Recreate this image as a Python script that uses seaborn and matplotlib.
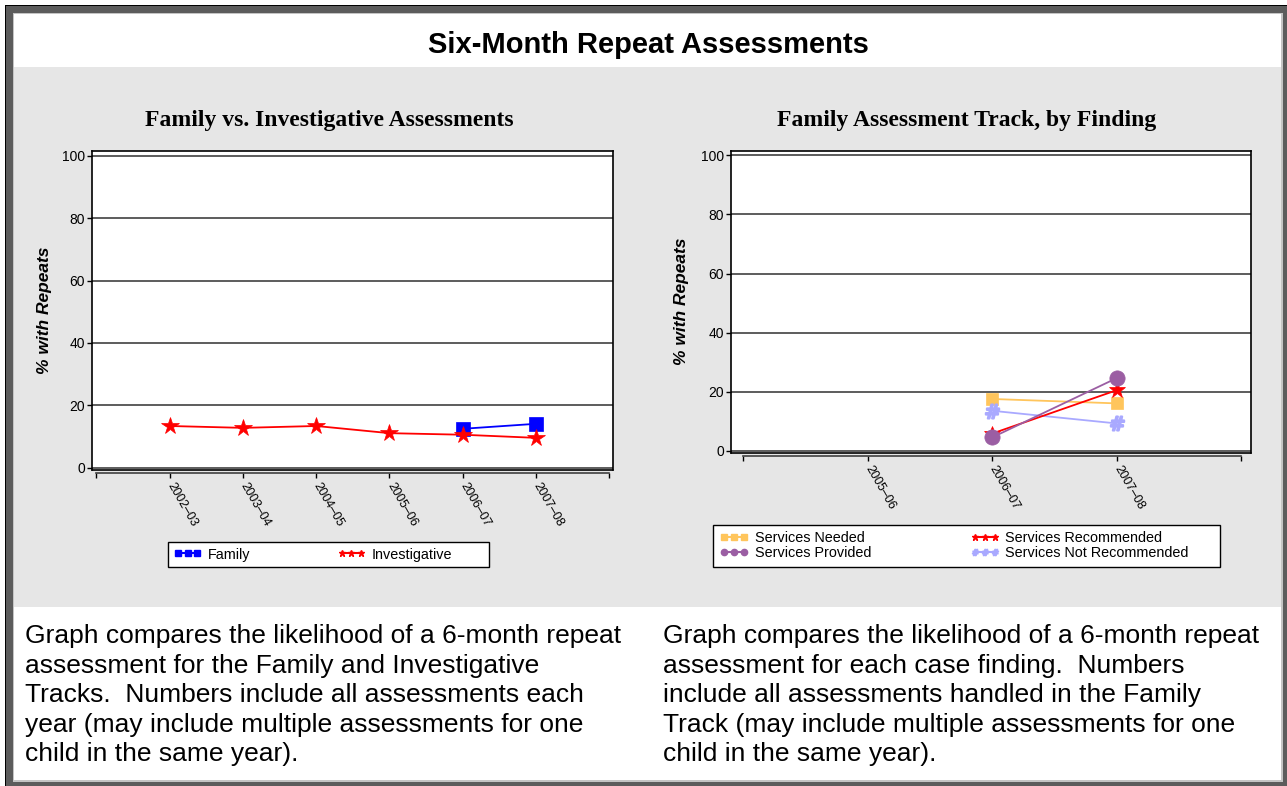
import pandas as pd
import seaborn as sns
import matplotlib.pyplot as plt
from matplotlib.patches import Rectangle
from matplotlib.lines import Line2D

# ---- data ----
years_left = ['2002–03', '2003–04', '2004–05', '2005–06', '2006–07', '2007–08']
investigative = [13.4, 12.8, 13.4, 11.1, 10.6, 9.6]
family_years = ['2006–07', '2007–08']
family = [12.5, 14.1]

years_right = ['2005–06', '2006–07', '2007–08']
finding_years = ['2006–07', '2007–08']
services_needed = [17.5, 16.0]
services_provided = [4.5, 24.6]
services_recommended = [5.8, 20.5]
services_not_recommended = [13.5, 9.2]

y_ticks = [0, 20, 40, 60, 80, 100]

title = 'Six-Month Repeat Assessments'
left_title = 'Family vs. Investigative Assessments'
right_title = 'Family Assessment Track, by Finding'
left_note = ("Graph compares the likelihood of a 6-month repeat\n"
             "assessment for the Family and Investigative\n"
             "Tracks.  Numbers include all assessments each\n"
             "year (may include multiple assessments for one\n"
             "child in the same year).")
right_note = ("Graph compares the likelihood of a 6-month repeat\n"
              "assessment for each case finding.  Numbers\n"
              "include all assessments handled in the Family\n"
              "Track (may include multiple assessments for one\n"
              "child in the same year).")

left_df = pd.concat([
    pd.DataFrame({'Year': family_years, 'Pct': family, 'Series': 'Family'}),
    pd.DataFrame({'Year': years_left, 'Pct': investigative, 'Series': 'Investigative'}),
])
left_df['pos'] = left_df['Year'].map({y: i + 1 for i, y in enumerate(years_left)})

right_df = pd.concat([
    pd.DataFrame({'Year': finding_years, 'Pct': services_needed, 'Series': 'Services Needed'}),
    pd.DataFrame({'Year': finding_years, 'Pct': services_provided, 'Series': 'Services Provided'}),
    pd.DataFrame({'Year': finding_years, 'Pct': services_recommended, 'Series': 'Services Recommended'}),
    pd.DataFrame({'Year': finding_years, 'Pct': services_not_recommended, 'Series': 'Services Not Recommended'}),
])
right_df['pos'] = right_df['Year'].map({y: i + 1 for i, y in enumerate(years_right)})

# ---- styles ----
left_style = {
    'Family': dict(color='#0000ff', marker='s', ms=9.5, mew=0.5, z=3),
    'Investigative': dict(color='#ff0000', marker='*', ms=13, mew=0.5, z=4),
}
right_style = {
    'Services Needed': dict(color='#ffc55c', marker='s', ms=9, mew=0.5, z=3),
    'Services Provided': dict(color='#9b5ea3', marker='o', ms=11, mew=0.5, z=6),
    'Services Recommended': dict(color='#ff0000', marker='*', ms=12, mew=0.5, z=5),
    'Services Not Recommended': dict(color='#a9a9ff', marker=r'$\#$', ms=10, mew=1.6, z=4),
}

sns.set_style('white')
plt.rcParams['font.family'] = ['Liberation Sans', 'DejaVu Sans']
for key in ['text.color', 'axes.labelcolor', 'xtick.color', 'ytick.color']:
    plt.rcParams[key] = 'black'

W, H = 1287, 786
fig = plt.figure(figsize=(W / 100, H / 100), dpi=100)
fig.patch.set_facecolor('white')


def box(x0, y0, x1, y1, **kw):
    # rectangle given in pixel coords, origin top-left
    fig.add_artist(Rectangle((x0 / W, 1 - y1 / H), (x1 - x0) / W, (y1 - y0) / H,
                             transform=fig.transFigure, **kw))


# page frame
box(5, 5, W, H, facecolor='#5c5c5c', edgecolor='none', zorder=-5)
box(5, 5, W, 6, facecolor='black', edgecolor='none', zorder=-4)
box(5, 5, 6.5, H, facecolor='black', edgecolor='none', zorder=-4)
box(12.5, 12.5, 1282.5, 781.5, facecolor='#c4c4c4', edgecolor='none', zorder=-4)
box(14, 14, 1281, 780, facecolor='white', edgecolor='none', zorder=-3)
box(14, 67, 1281, 607, facecolor='#e6e6e6', edgecolor='none', zorder=-2)

ax1 = fig.add_axes([92.4 / W, 1 - 470 / H, (612.5 - 92.4) / W, (470 - 150.7) / H])
ax2 = fig.add_axes([731.2 / W, 1 - 452.7 / H, (1251.3 - 731.2) / W, (452.7 - 150.7) / H])


def draw(ax, df, styles, order, cats):
    for name in order:
        st = styles[name]
        sns.lineplot(data=df[df['Series'] == name], x='pos', y='Pct', color=st['color'],
                     marker=st['marker'], markersize=st['ms'], markeredgecolor=st['color'],
                     markeredgewidth=st['mew'], lw=1.3, ax=ax, legend=False, zorder=st['z'])
    n = len(cats)
    ax.set_xlim(-0.055 * 7 / (n + 1), n + 1 + 0.045 * 7 / (n + 1))
    ax.set_ylim(-0.7, 101.6)
    ax.set_facecolor('white')
    # spine setup first: set_position resets the tick objects
    for s in ax.spines.values():
        s.set_visible(True)
        s.set_color('black')
        s.set_linewidth(1.2)
    ax.spines['bottom'].set_position(('outward', 2.5))
    ax.spines['bottom'].set_bounds(0, n + 1)
    ax.spines['bottom'].set_color('#404040')
    ax.add_line(Line2D([0, 1], [0, 0], transform=ax.transAxes, color='black', lw=1.2,
                       clip_on=False, zorder=5))
    ax.tick_params(axis='both', bottom=True, left=True, direction='out', length=3.3,
                   width=1, color='black', pad=2, labelcolor='black')
    ax.tick_params(axis='x', pad=4)
    ax.set_xticks(range(n + 2))
    ax.set_xticklabels([''] + cats + [''], fontsize=9, rotation=-60, ha='left',
                       va='center', rotation_mode='anchor')
    ax.set_yticks(y_ticks)
    ax.set_yticklabels([str(v) for v in y_ticks], fontsize=10)
    ax.grid(axis='y', color='#303030', lw=1.1)
    ax.grid(axis='x', visible=False)
    ax.set_xlabel('')
    ax.set_ylabel('% with Repeats', fontsize=12.5, fontweight='heavy', style='italic')


draw(ax1, left_df, left_style, ['Family', 'Investigative'], years_left)
draw(ax2, right_df, right_style,
     ['Services Needed', 'Services Not Recommended', 'Services Recommended', 'Services Provided'],
     years_right)
ax1.yaxis.set_label_coords(-0.078, 0.5)
ax2.yaxis.set_label_coords(-0.082, 0.5)

# titles
fig.text(648 / W, 1 - 53 / H, title, ha='center', va='baseline', fontsize=21, fontweight='bold')
fig.text(329 / W, 1 - 126 / H, left_title, ha='center', va='baseline', fontsize=17,
         fontweight='bold', family=['Liberation Serif', 'DejaVu Serif'])
fig.text(967 / W, 1 - 126 / H, right_title, ha='center', va='baseline', fontsize=17,
         fontweight='bold', family=['Liberation Serif', 'DejaVu Serif'])


# legends
def handles(styles, order):
    return [Line2D([], [], color=styles[k]['color'], marker=styles[k]['marker'],
                   markersize=4.5, markeredgecolor=styles[k]['color'], lw=1.5) for k in order]


box(168, 542, 489, 567, facecolor='white', edgecolor='black', lw=1, zorder=-1)
left_order = ['Family', 'Investigative']
fig.legend(handles(left_style, left_order), left_order, loc='center left',
           bbox_to_anchor=(173.5 / W, 1 - 554.5 / H), ncol=2, frameon=False, fontsize=10.4,
           numpoints=3, handlelength=1.95, handletextpad=0.45, columnspacing=6.0,
           borderpad=0, borderaxespad=0)

box(713, 525, 1220, 567, facecolor='white', edgecolor='black', lw=1, zorder=-1)
right_order = ['Services Needed', 'Services Provided', 'Services Recommended',
               'Services Not Recommended']
fig.legend(handles(right_style, right_order), right_order, loc='center left',
           bbox_to_anchor=(720 / W, 1 - 545.5 / H), ncol=2, frameon=False, fontsize=10.4,
           numpoints=3, handlelength=1.95, handletextpad=0.45, columnspacing=6.9,
           labelspacing=0.1, borderpad=0, borderaxespad=0)

# notes under the charts
fig.text(25 / W, 1 - 624 / H, left_note, ha='left', va='top', fontsize=19, linespacing=1.29)
fig.text(663 / W, 1 - 624 / H, right_note, ha='left', va='top', fontsize=19, linespacing=1.29)

fig.savefig('out.png', dpi=100)
